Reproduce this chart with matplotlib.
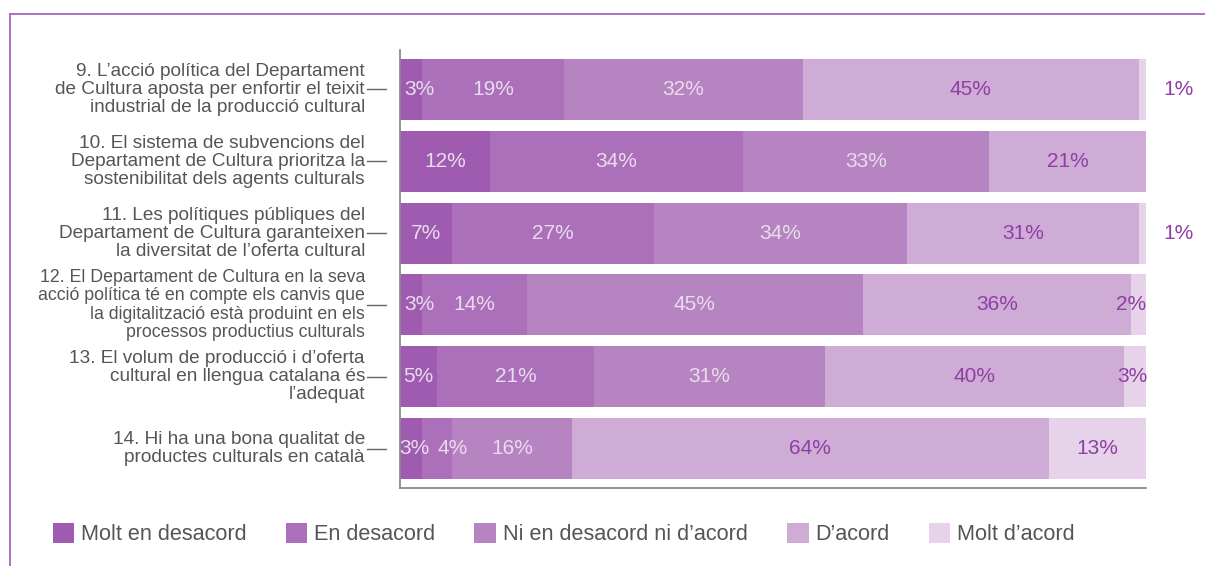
import numpy as np
import matplotlib.pyplot as plt
from matplotlib.patches import Patch
from matplotlib.lines import Line2D
import matplotlib.transforms as mtransforms

plt.rcParams['font.family'] = ['Liberation Sans', 'DejaVu Sans']

questions = [
    "9. L\u2019acció política del Departament\nde Cultura aposta per enfortir el teixit\nindustrial de la producció cultural",
    "10. El sistema de subvencions del\nDepartament de Cultura prioritza la\nsostenibilitat dels agents culturals",
    "11. Les polítiques públiques del\nDepartament de Cultura garanteixen\nla diversitat de l\u2019oferta cultural",
    "12. El Departament de Cultura en la seva\nacció política té en compte els canvis que\nla digitalització està produint en els\nprocessos productius culturals",
    "13. El volum de producció i d\u2019oferta\ncultural en llengua catalana és\nl\u2019adequat",
    "14. Hi ha una bona qualitat de\nproductes culturals en català",
]
categories = ["Molt en desacord", "En desacord", "Ni en desacord ni d\u2019acord",
              "D\u2019acord", "Molt d\u2019acord"]
molt_desacord = [3, 12, 7, 3, 5, 3]
desacord = [19, 34, 27, 14, 21, 4]
ni_ni = [32, 33, 34, 45, 31, 16]
acord = [45, 21, 31, 36, 40, 64]
molt_acord = [1, 0, 1, 2, 3, 13]

series = [molt_desacord, desacord, ni_ni, acord, molt_acord]
colors = ['#9e5bb0', '#ab70b9', '#b584c1', '#cfacd6', '#e6d3ea']
text_colors = ['#eadcee', '#eadcee', '#eadcee', '#8f3ea3', '#8f3ea3']

# label nudges (row, series) -> x shift in % units; values < 1.5 go outside the bar
nudges = {(0, 0): 1.1, (3, 0): 1.1, (5, 0): 0.4, (5, 1): 2.0, (3, 4): -1.0, (4, 4): -0.3}

fig = plt.figure(figsize=(12.05, 5.66), dpi=100)
ax = fig.add_axes([400/1205, 1-488/566, 746/1205, 438/566])

y = np.arange(len(questions))
left = np.zeros(len(questions))
for i, vals in enumerate(series):
    vals = np.array(vals, dtype=float)
    ax.barh(y, vals, left=left, height=0.85, color=colors[i], linewidth=0)
    for r, v in enumerate(vals):
        if v <= 0:
            continue
        if v < 1.5:
            xpos = 104.4
        else:
            xpos = left[r] + v/2 + nudges.get((r, i), 0)
        ax.text(xpos, r, f"{int(v)}%", ha='center', va='center',
                fontsize=15, color=text_colors[i])
    left += vals

ax.set_xlim(0, 100)
ax.set_ylim(5.55, -0.55)
ax.set_xticks([])
ax.set_yticks([])
for s in ['top', 'right']:
    ax.spines[s].set_visible(False)
for s in ['left', 'bottom']:
    ax.spines[s].set_color('#8a8a8a')
    ax.spines[s].set_linewidth(1.3)

trans = mtransforms.blended_transform_factory(ax.transAxes, ax.transData)
for r, q in enumerate(questions):
    fs = 12.8 if q.count("\n") > 2 else 13.7
    ax.text(-0.047, r, q, transform=trans, ha='right', va='center',
            multialignment='right', fontsize=fs, color='#555555',
            linespacing=1.07 if fs > 13 else 1.1)
    ax.add_line(Line2D([-0.044, -0.019], [r, r], transform=trans,
                       color='#666666', lw=1.0, clip_on=False))

handles = [Patch(facecolor=c, edgecolor='none') for c in colors]
fig.legend(handles, categories, loc='center left', bbox_to_anchor=(33/1205, 1-534/566),
           ncol=5, frameon=False, fontsize=15.6, handlelength=1.0, handleheight=1.05,
           handletextpad=0.32, columnspacing=1.8, labelcolor='#555555')

# outer frame
fig.add_artist(Line2D([10/1205, 1], [1-14/566, 1-14/566], color='#a566bd', lw=1.3))
fig.add_artist(Line2D([10/1205, 10/1205], [0, 1-14/566], color='#a566bd', lw=1.3))

fig.savefig('out.png', dpi=100)
